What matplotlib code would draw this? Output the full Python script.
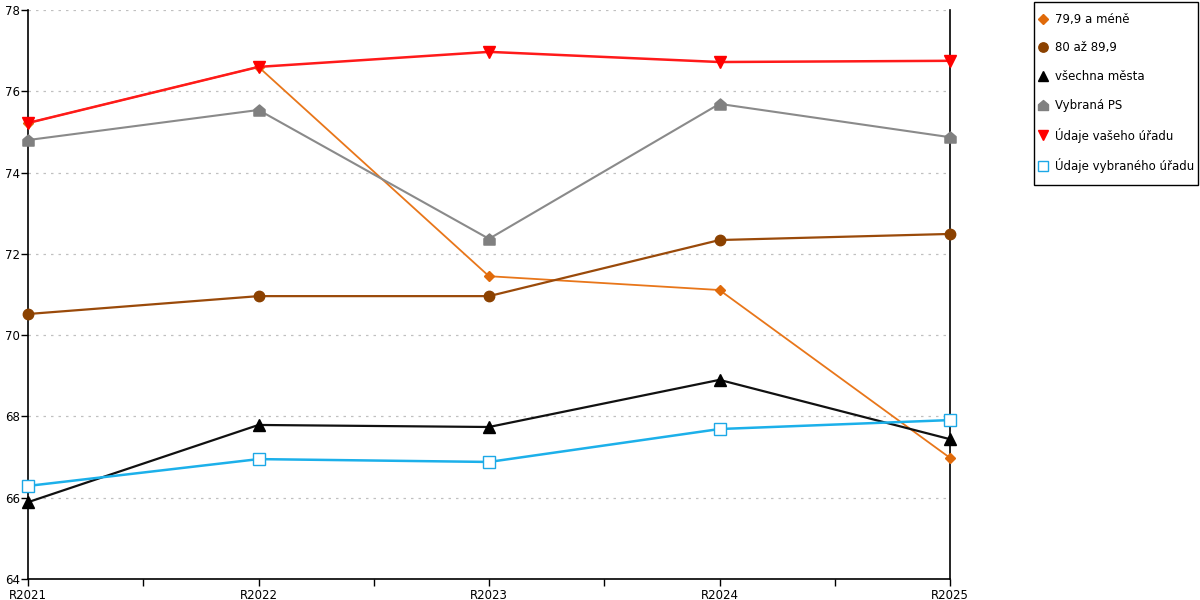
import matplotlib
matplotlib.use('Agg')
import matplotlib.pyplot as plt
from matplotlib.lines import Line2D
from matplotlib.path import Path
from matplotlib.patches import Rectangle

years = ['R2021', 'R2022', 'R2023', 'R2024', 'R2025']

low_79 = [75.22, 76.60, 71.45, 71.11, 66.98]
mid_80_89 = [70.52, 70.96, 70.96, 72.34, 72.49]
all_cities = [65.89, 67.79, 67.74, 68.90, 67.44]
selected_ps = [74.80, 75.54, 72.37, 75.69, 74.87]
your_office = [75.22, 76.60, 76.97, 76.72, 76.75]
selected_office = [66.29, 66.95, 66.88, 67.69, 67.91]

labels = ['79,9 a méně', '80 až 89,9', 'všechna města', 'Vybraná PS',
          'Údaje vašeho úřadu', 'Údaje vybraného úřadu']

# house shaped marker for "Vybraná PS"
house = Path([(-1, -1), (1, -1), (1, 0.15), (0, 1), (-1, 0.15), (-1, -1)],
             [Path.MOVETO, Path.LINETO, Path.LINETO, Path.LINETO, Path.LINETO, Path.CLOSEPOLY])

styles = [
    dict(color='#e8761a', lw=1.3, marker='D', ms=5.5, mfc='#e06a0a', mec='#e06a0a'),
    dict(color='#9a4a0a', lw=1.6, marker='o', ms=7.5, mfc='#8b4100', mec='#8b4100'),
    dict(color='#111111', lw=1.6, marker='^', ms=8, mfc='black', mec='black'),
    dict(color='#8a8a8a', lw=1.5, marker=house, ms=8, mfc='#808080', mec='#808080'),
    dict(color='#ff1a1a', lw=1.8, marker='v', ms=8, mfc='#ff0000', mec='#ff0000'),
    dict(color='#1cb0ea', lw=1.8, marker='s', ms=8, mfc='white', mec='#1ca8e6', mew=1.0),
]
series = [low_79, mid_80_89, all_cities, selected_ps, your_office, selected_office]

fig = plt.figure(figsize=(12, 6), dpi=100)
ax = fig.add_axes([28 / 1200, 21 / 600, 922 / 1200, 569 / 600])

x = list(range(len(years)))
for vals, st in zip(series, styles):
    ax.plot(x, vals, clip_on=False, zorder=3, **st)

ax.set_xlim(0, len(years) - 1)
ax.set_ylim(64, 78)
ax.set_yticks(range(64, 79, 2))
ax.set_xticks(x)
ax.set_xticklabels(years)
ax.set_xticks([i + 0.5 for i in x[:-1]], minor=True)
ax.tick_params(axis='both', which='both', direction='out', length=5, width=1,
               labelsize=8.5, colors='black')
ax.tick_params(axis='x', pad=2)
ax.tick_params(axis='y', pad=1)
ax.yaxis.grid(True, linestyle=(0, (2, 4)), color='#c0c0c0', lw=0.9)
ax.set_axisbelow(True)
ax.spines['top'].set_visible(False)
for s in ['left', 'right', 'bottom']:
    ax.spines[s].set_linewidth(1.2)
    ax.spines[s].set_color('black')

# legend frame drawn separately for exact size
fig.patches.append(Rectangle((1034 / 1200, 1 - 185 / 600), 164 / 1200, 183 / 600,
                             transform=fig.transFigure, fill=False, ec='black', lw=1.0))

handles = []
for st, lab in zip(styles, labels):
    h = Line2D([], [], linestyle='none', marker=st['marker'], ms=st['ms'] * 0.9,
               mfc=st['mfc'], mec=st['mec'], mew=st.get('mew', 1.0), label=lab)
    handles.append(h)
leg = fig.legend(handles=handles, loc='upper left', bbox_to_anchor=(1034 / 1200, 1 - 8 / 600),
                 frameon=False, fontsize=8.5,
                 handlelength=0.8, handletextpad=0.58, labelspacing=1.33,
                 borderpad=0.4, borderaxespad=0)

fig.savefig('out.png', dpi=100)
